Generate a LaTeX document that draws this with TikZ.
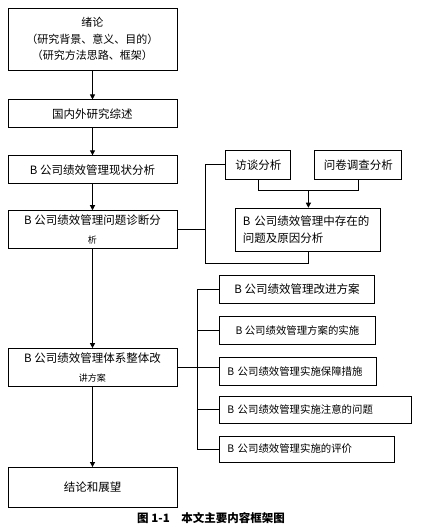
\documentclass[tikz,border=0pt]{standalone}
\usepackage{fontspec}
\setmainfont{Noto Sans CJK SC}
\usetikzlibrary{arrows.meta,positioning,calc}

\begin{document}
\begin{tikzpicture}[x=1pt,y=1pt,node distance=26pt,>={Triangle[length=5pt,width=5pt]},
box/.style={draw,line width=0.9pt,minimum width=169pt,align=center,inner sep=3pt,font=\fontsize{11.5}{19}\selectfont},
mid/.style={draw,line width=0.9pt,inner xsep=7pt,font=\fontsize{11.5}{17}\selectfont},
sub/.style={draw,line width=0.9pt,minimum height=28pt,inner xsep=8pt,font=\fontsize{10.4}{12}\selectfont},
arr/.style={->,line width=1pt},
ln/.style={line width=0.9pt}]
\useasboundingbox (0,0) rectangle (421,531);
% main column
\node[box,minimum height=62pt,font=\fontsize{11}{16.5}\selectfont] (intro) at (92.5,492) {绪论\\（研究背景、意义、目的）\\（研究方法思路、框架）};
\node[box,minimum height=28pt,below=29pt of intro] (lit) {国内外研究综述};
\node[box,minimum height=28pt,below=27pt of lit] (cur) {B 公司绩效管理现状分析};
\node[box,minimum height=38pt,below=26pt of cur] (diag) {B 公司绩效管理问题诊断分\\{\fontsize{9}{10}\selectfont 析}};
\node[box,minimum height=38pt,below=99pt of diag] (plan) {B 公司绩效管理体系整体改\\{\fontsize{9}{10}\selectfont 讲方案}};
\node[box,minimum height=40pt,below=80pt of plan] (concl) {结论和展望};
\foreach \u/\v in {intro/lit,lit/cur,cur/diag,diag/plan,plan/concl}{\draw[arr] (\u)--(\v);}
% diagnosis branch
\node[mid,right=58pt of diag,minimum height=43pt,text width=131pt,align=left] (pb) {B 公司绩效管理中存在的\\问题及原因分析};
\node[mid,minimum width=65pt,minimum height=29pt,above right=28pt and -10pt of pb.north west] (iv) {访谈分析};
\node[mid,minimum width=87pt,minimum height=29pt,right=23pt of iv] (qs) {问卷调查分析};
\coordinate (m) at ($(pb.north)+(0,17)$);
\draw[ln] (iv.south) |- (m) -| (qs.south);
\draw[arr] (m) -- (pb.north);
\coordinate (br) at ($(diag.east)+(28,0)$);
\draw[ln] (diag.east) -- (br);
\draw[ln] (iv.west) -| ($(br)+(0,-34)$) -| (pb.south);
% improvement branch
\node[sub,minimum width=155pt,font=\fontsize{11.5}{13}\selectfont,anchor=north west] (imp1) at (219,256) {B 公司绩效管理改进方案};
\node[sub,minimum width=156pt,below=12pt of imp1.south west,anchor=north west] (imp2) {B 公司绩效管理方案的实施};
\node[sub,text width=141pt,align=left,below=12pt of imp2.south west,anchor=north west] (imp3) {B 公司绩效管理实施保障措施};
\node[sub,minimum height=27pt,text width=176pt,align=left,below=10pt of imp3.south west,anchor=north west] (imp4) {B 公司绩效管理实施注意的问题};
\node[sub,minimum height=26pt,text width=159pt,align=left,below=12pt of imp4.south west,anchor=north west] (imp5) {B 公司绩效管理实施的评价};
\coordinate (sp) at ($(plan.east)+(20,0)$);
\draw[ln] (imp1.west) -| (sp |- imp5.west) -- (imp5.west);
\foreach \n in {imp2,imp4}{\draw[ln] (\n.west) -- (sp |- \n.west);}
\draw[ln] (plan.east) -- (plan.east -| imp3.west);
% caption
\node[font=\bfseries\fontsize{11.5}{13}\selectfont] (cap) at (211,13) {图 1-1\quad 本文主要内容框架图};
\end{tikzpicture}
\end{document}
